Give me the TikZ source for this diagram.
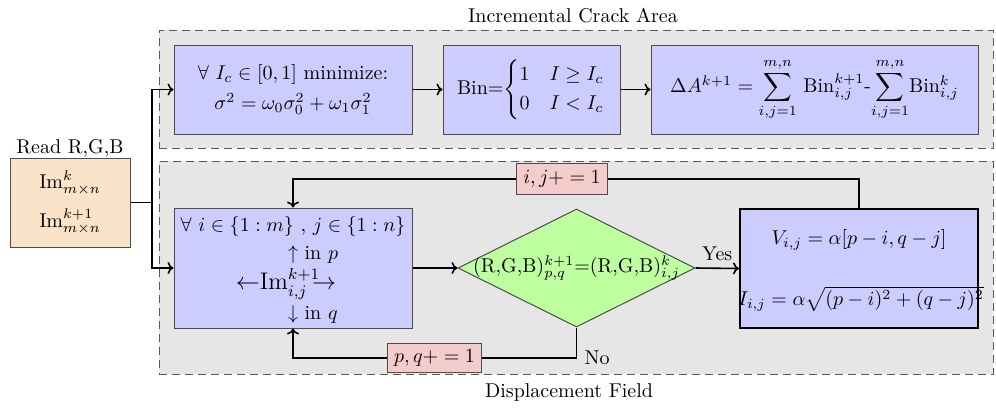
\documentclass[tikz,border=0pt]{standalone}
\usepackage{amsmath,amssymb}
\usetikzlibrary{shapes.geometric,arrows.meta}
\definecolor{bluefill}{RGB}{204,204,255}
\definecolor{orangefill}{RGB}{250,227,200}
\definecolor{greenfill}{RGB}{190,255,160}
\definecolor{pinkfill}{RGB}{245,204,204}
\definecolor{regionfill}{RGB}{230,230,230}
\begin{document}
\begin{tikzpicture}[x=0.5pt,y=-0.5pt,
  region/.style={draw=black!65, fill=regionfill, dash pattern=on 4pt off 2.5pt, line width=0.5pt, inner sep=0pt},
  bluebox/.style={draw=black!70, fill=bluefill, line width=0.5pt, inner sep=0pt, align=center},
  pinkbox/.style={draw=black!70, fill=pinkfill, line width=0.5pt, inner sep=3.3pt},
  conn/.style={line width=0.8pt, -{To[length=3pt,width=6pt]}},
  plainline/.style={line width=0.8pt},
  intext/.style={inner sep=0pt}]
\useasboundingbox (0,0) rectangle (996,408);
% regions
\node[region, minimum width=417pt, minimum height=59pt] (topreg) at (576,89) {};
\node[region, minimum width=417pt, minimum height=106.5pt] (botreg) at (576,267.5) {};
\node (toplab) at (573,16) {Incremental Crack Area};
\node (botlab) at (569,392) {Displacement Field};
% input
\node[draw=black!70, fill=orangefill, line width=0.5pt, minimum width=60pt, minimum height=44.5pt, align=center, inner sep=0pt] (read) at (70,202.5)
  {Im$^{k}_{m\times n}$\\[6pt] Im$^{k+1}_{m\times n}$};
\node (readlab) at (70,148) {Read R,G,B};
% top row
\node[bluebox, minimum width=119pt, minimum height=44.5pt] (otsu) at (293,89.5)
  {$\forall\ I_c\in[0,1]$ minimize:\\[3pt] $\sigma^2=\omega_0\sigma_0^2+\omega_1\sigma_1^2$};
\node[bluebox, minimum width=88.5pt, minimum height=44.5pt] (bin) at (531.5,89.5)
  {Bin=$\begin{cases}1 & I\geq I_c\\ 0 & I<I_c\end{cases}$};
\node[bluebox, minimum width=163.5pt, minimum height=44.5pt] (area) at (814.5,89.5)
  {$\Delta A^{k+1}=\displaystyle\sum_{i,j=1}^{m,n}$ Bin$^{k+1}_{i,j}$-$\displaystyle\sum_{i,j=1}^{m,n}$Bin$^{k}_{i,j}$};
% bottom row
\node[bluebox, minimum width=119pt, minimum height=60pt] (search) at (293,268) {};
\node[intext] (srchA) at (293,226) {$\forall\ i\in\{1:m\}$ , $j\in\{1:n\}$};
\node[intext] (srchB) at (293,254) {$\uparrow$\rlap{\ in $p$}};
\node[intext] (srchC) at (286,284) {\large$\leftarrow$Im$^{k+1}_{i,j}$\hspace{-4pt}$\rightarrow$};
\node[intext] (srchD) at (293,314) {$\downarrow$\rlap{\ in $q$}};
\node[diamond, draw=black!70, fill=greenfill, line width=0.5pt, minimum width=118.5pt, minimum height=59pt, inner sep=0pt] (dia) at (576.5,268) {};
\node (diatext) at (576.5,268) {(R,G,B)$^{k+1}_{p,q}$=(R,G,B)$^{k}_{i,j}$};
\node[draw=black, line width=1pt, fill=bluefill, minimum width=119pt, minimum height=59.5pt, inner sep=0pt] (disp) at (859,268.5) {};
\node[intext] (dispA) at (859,240) {$V_{i,j}=\alpha[p-i,q-j]$};
\node[intext] (dispB) at (861,299) {$I_{i,j}=\alpha\sqrt{(p-i)^2+(q-j)^2}$};
\node[pinkbox] (ij) at (562,179) {$i,j+=1$};
\node[pinkbox] (pq) at (434.5,358) {$p,q+=1$};
\node (no) at (597,358) {No};
% connectors
\coordinate (jn) at (152,202.5);
\draw[plainline] (read.east) -- (jn);
\draw[conn] (jn) |- (otsu.west);
\draw[conn] (jn) |- (search.west);
\draw[conn] (otsu.east) -- (bin.west);
\draw[conn] (bin.east) -- (area.west);
\draw[conn] (search.east) -- (dia.west);
\draw[conn] (dia.east) -- node[above] (yes) {Yes} (disp.west);
\draw[plainline] (disp.north) |- (ij.east);
\draw[conn] (ij.west) -| (search.north);
\draw[plainline] (dia.south) |- (pq.east);
\draw[conn] (pq.west) -| (search.south);
\end{tikzpicture}
\end{document}
